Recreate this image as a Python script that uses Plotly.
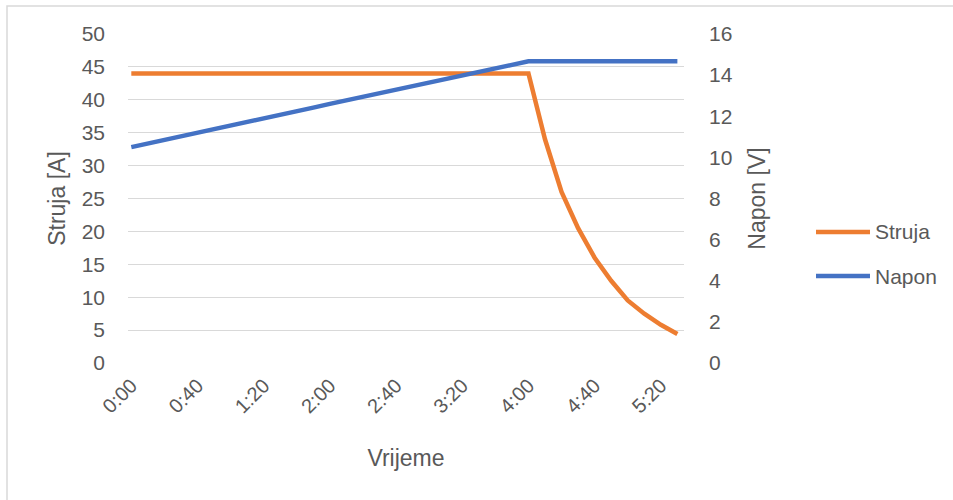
import plotly.graph_objects as go

# ---- data ----
vrijeme = ["0:00","0:10","0:20","0:30","0:40","0:50","1:00","1:10","1:20","1:30",
           "1:40","1:50","2:00","2:10","2:20","2:30","2:40","2:50","3:00","3:10",
           "3:20","3:30","3:40","3:50","4:00","4:10","4:20","4:30","4:40","4:50",
           "5:00","5:10","5:20","5:30"]
struja = [44]*25 + [34, 26, 20.5, 16, 12.5, 9.5, 7.5, 5.8, 4.4]
napon = [10.5, 10.67, 10.85, 11.02, 11.2, 11.37, 11.55, 11.72, 11.9, 12.07,
         12.25, 12.42, 12.6, 12.77, 12.95, 13.12, 13.3, 13.47, 13.65, 13.82,
         14.0, 14.17, 14.35, 14.52, 14.67,
         14.67, 14.67, 14.67, 14.67, 14.67, 14.67, 14.67, 14.67, 14.67]
x_ticks = ["0:00","0:40","1:20","2:00","2:40","3:20","4:00","4:40","5:20"]
left_ticks = list(range(0, 51, 5))
right_ticks = list(range(0, 17, 2))
series_names = ["Struja", "Napon"]
series_colors = ["#ED7D31", "#4472C4"]

W, H = 953, 500
L, R, T, B = 128, 684, 34, 363
FONT = "Liberation Sans"
GREY = "#595959"

def px(xs):
    return (xs - L) / (R - L)

def py(ys):
    return (B - ys) / (B - T)

fig = go.Figure()
fig.add_trace(go.Scatter(x=vrijeme, y=struja, name=series_names[0], mode="lines",
                         line=dict(color=series_colors[0], width=4.5)))
fig.add_trace(go.Scatter(x=vrijeme, y=napon, name=series_names[1], mode="lines",
                         line=dict(color=series_colors[1], width=4.5), yaxis="y2"))

shapes = [dict(type="rect", xref="paper", yref="paper",
               x0=px(7), x1=px(975), y0=py(6), y1=py(520),
               line=dict(color="#d9d9d9", width=1.5), fillcolor="rgba(0,0,0,0)",
               layer="below")]
annotations = []
legend_y = [232, 276]
for name, col, ly in zip(series_names, series_colors, legend_y):
    shapes.append(dict(type="line", xref="paper", yref="paper",
                       x0=px(816), x1=px(870), y0=py(ly), y1=py(ly),
                       line=dict(color=col, width=4.5)))
    annotations.append(dict(text=name, xref="paper", yref="paper",
                            x=px(873), y=py(ly), xanchor="left", yanchor="middle",
                            showarrow=False, font=dict(size=21, color=GREY)))

fig.update_layout(
    width=W, height=H,
    margin=dict(l=L, r=W - R, t=T, b=H - B),
    paper_bgcolor="white", plot_bgcolor="white",
    font=dict(family=FONT, color=GREY, size=21),
    xaxis=dict(
        type="category", range=[-0.2, 33.4],
        tickmode="array", tickvals=x_ticks, ticktext=x_ticks,
        tickangle=-45, showgrid=False, zeroline=False, showline=False,
        ticks="", ticklabelstandoff=6,
        tickfont=dict(size=20, color=GREY),
        title=dict(text="Vrijeme", font=dict(size=23, color=GREY), standoff=33),
    ),
    yaxis=dict(
        range=[0, 50], tickmode="array", tickvals=left_ticks,
        showgrid=True, gridcolor="#d9d9d9", gridwidth=1.3, zeroline=False,
        showline=False, ticks="", ticklabelstandoff=22,
        tickfont=dict(size=21, color=GREY),
        title=dict(text="Struja [A]", font=dict(size=23, color=GREY), standoff=9),
    ),
    yaxis2=dict(
        range=[0, 16], tickmode="array", tickvals=right_ticks,
        overlaying="y", side="right", showgrid=False, zeroline=False,
        showline=False, ticks="", ticklabelstandoff=24,
        tickfont=dict(size=21, color=GREY),
        title=dict(text="Napon [V]", font=dict(size=23, color=GREY), standoff=17),
    ),
    showlegend=False,
    shapes=shapes,
    annotations=annotations,
)

fig.write_html("out.html", config={"displayModeBar": False},
               post_script="document.body.style.margin='0';document.body.style.padding='0';")
